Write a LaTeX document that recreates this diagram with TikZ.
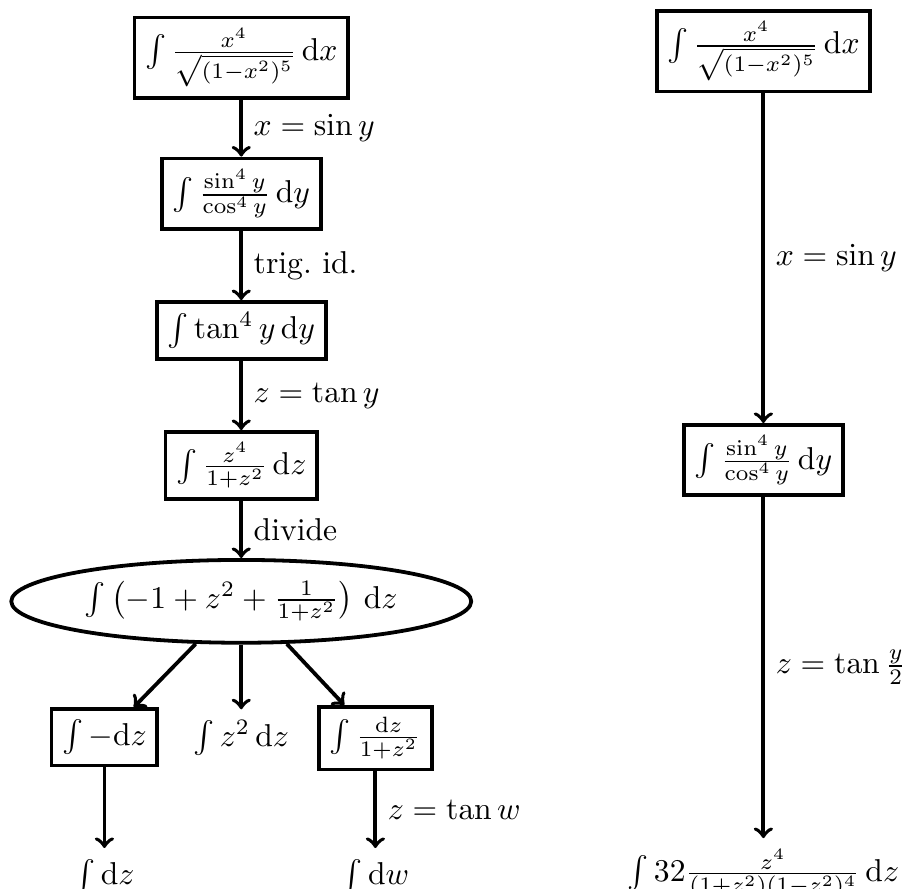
\documentclass[tikz,border=0pt]{standalone}
\usepackage{amsmath}
\usepackage{tikz}
\usetikzlibrary{shapes.geometric, arrows}
\usetikzlibrary{calc,positioning}

\tikzset{
    stepbox/.style={draw, very thick, rectangle},
    stepell/.style={draw, very thick, ellipse, minimum width=5.11cm, minimum height=0.92cm, inner sep=0pt},
    plain/.style={rectangle},
    subst/.style={very thick, -{to[scale=1.35]}}
}

\begin{document}
\begin{tikzpicture}

    \useasboundingbox (0,0) rectangle (10.02,-9.87);

    % Links: via tan y
    \node[stepbox] (L1) at (2.68,-0.64) {$\int \frac{x^4}{\sqrt{(1-x^2)^5}}\,\mathrm{d}x$};
    \node[stepbox] (L2) at (2.68,-2.15) {$\int \frac{\sin^4 y}{\cos^4 y}\,\mathrm{d}y$};
    \node[stepbox] (L3) at (2.68,-3.67) {$\int \tan^4 y\,\mathrm{d}y$};
    \node[stepbox] (L4) at (2.68,-5.17) {$\int \frac{z^4}{1+z^2}\,\mathrm{d}z$};
    \node[stepell] (L5) at (2.68,-6.68) {$\int \,\bigl(-1+z^2+\frac{1}{1+z^2}\bigr)\,\,\mathrm{d}z$};

    % Drie termen
    \node[stepbox] (La) at (1.16,-8.19) {$\int -\mathrm{d}z$};
    \node[plain]   (Lb) at (2.68,-8.20) {$\int z^2\,\mathrm{d}z$};
    \node[stepbox] (Lc) at (4.17,-8.20) {$\int \frac{\mathrm{d}z}{1+z^2}$};
    \node[plain, anchor=north] (Ld) at (1.16,-9.42) {$\int \mathrm{d}z$};
    \node[plain, anchor=north] (Le) at (4.17,-9.42) {$\int \mathrm{d}w$};

    \draw[subst] (L1) -- node[right] {$x=\sin y$} (L2);
    \draw[subst] (L2) -- node[right] {trig.\ id.} (L3);
    \draw[subst] (L3) -- node[right] {$z=\tan y$} (L4);
    \draw[subst] (L4) -- node[right] {divide} (L5);
    \draw[subst] (L5.223) -- (La);
    \draw[subst] (L5.south) -- (Lb);
    \draw[subst] (L5.317) -- (Lc);
    \draw[subst] (La) -- (Ld);
    \draw[subst] (Lc) -- node[right] {$z=\tan w$} (Le);

    % Rechts: via tan y/2
    \node[stepbox] (R1) at (8.48,-0.57) {$\int \frac{x^4}{\sqrt{(1-x^2)^5}}\,\mathrm{d}x$};
    \node[stepbox] (R2) at (8.48,-5.11) {$\int \frac{\sin^4 y}{\cos^4 y}\,\mathrm{d}y$};
    \node[plain, anchor=north] (R3) at (8.48,-9.31) {$\int 32\frac{z^4}{(1+z^2)(1-z^2)^4}\,\mathrm{d}z$};

    \draw[subst] (R1) -- node[right] {$x=\sin y$} (R2);
    \draw[subst] (R2) -- node[right] {$z=\tan\frac{y}{2}$} (R3);

\end{tikzpicture}
\end{document}
